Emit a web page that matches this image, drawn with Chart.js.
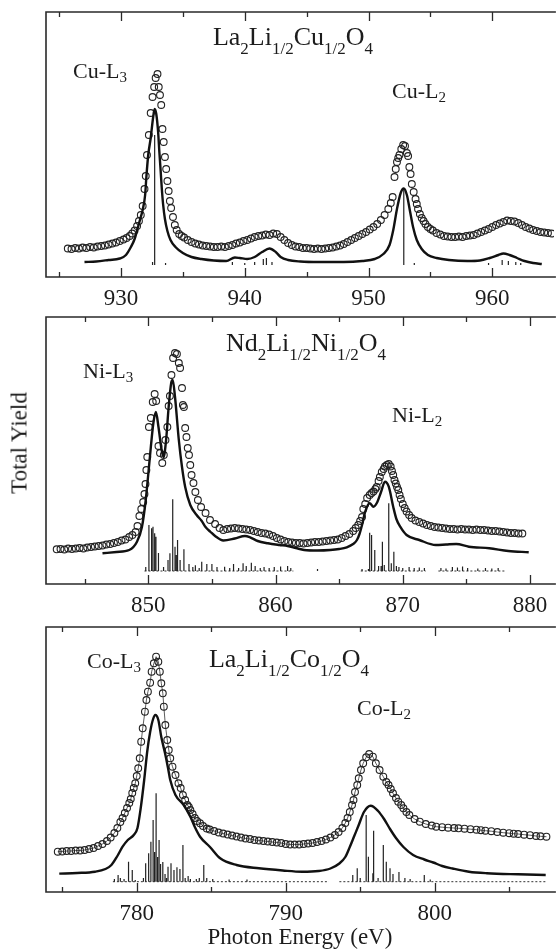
<!DOCTYPE html>
<html>
<head>
<meta charset="utf-8">
<script src="https://cdn.jsdelivr.net/npm/chart.js@4"></script>
<style>
  html, body { margin: 0; padding: 0; background: #fff; }
  #page { position: relative; width: 559px; height: 949px; overflow: hidden;
          font-family: "Liberation Serif", "DejaVu Serif", serif; color: #1c1c1c; }
  .panel { position: absolute; left: 0; width: 559px; }
  .txt { position: absolute; line-height: 1; white-space: nowrap; }
  .title { font-size: 26px; text-align: center; width: 300px; }
  .title sub { font-size: 17px; vertical-align: -9px; line-height: 1; }
  .peak { font-size: 22px; }
  .peak sub { font-size: 15px; vertical-align: -4px; line-height: 1; }
  #ytitle { font-size: 23px; left: 19px; top: 443px; transform: translate(-50%, -50%) rotate(-90deg); }
</style>
</head>
<body>
<div id="page">
  <div class="panel" style="top:0;height:307px"><canvas id="cu"></canvas></div>
  <div class="panel" style="top:307px;height:307px"><canvas id="ni"></canvas></div>
  <div class="panel" style="top:614px;height:335px"><canvas id="co"></canvas></div>

  <div class="txt title" style="left:143px;top:24px">La<sub>2</sub>Li<sub>1/2</sub>Cu<sub>1/2</sub>O<sub>4</sub></div>
  <div class="txt peak" style="left:73px;top:60px">Cu-L<sub>3</sub></div>
  <div class="txt peak" style="left:392px;top:80px">Cu-L<sub>2</sub></div>

  <div class="txt title" style="left:156px;top:330px">Nd<sub>2</sub>Li<sub>1/2</sub>Ni<sub>1/2</sub>O<sub>4</sub></div>
  <div class="txt peak" style="left:83px;top:360px">Ni-L<sub>3</sub></div>
  <div class="txt peak" style="left:392px;top:404px">Ni-L<sub>2</sub></div>

  <div class="txt title" style="left:139px;top:646px">La<sub>2</sub>Li<sub>1/2</sub>Co<sub>1/2</sub>O<sub>4</sub></div>
  <div class="txt peak" style="left:87px;top:650px">Co-L<sub>3</sub></div>
  <div class="txt peak" style="left:357px;top:697px">Co-L<sub>2</sub></div>

  <div class="txt" id="ytitle">Total Yield</div>
</div>
<script>
// ---- Cu panel (La2Li1/2Cu1/2O4) : [photon energy eV, yield a.u.] ----
const cuExp = [
  [925.7,28.5],[926.0,28],[926.3,29],[926.6,28.5],[926.9,29.5],[927.2,29],[927.5,30],[927.8,29.5],
  [928.1,30.5],[928.4,31],[928.7,31.5],[929.0,32.5],[929.3,33.5],[929.6,34.5],[929.9,36],[930.2,37.5],
  [930.45,39],[930.7,41],[930.9,43.5],[931.1,46.5],[931.3,51],[931.45,56],[931.6,62],[931.75,71],
  [931.9,88],[932.0,101],[932.1,122],[932.25,142],[932.4,164],[932.55,180],[932.68,190],[932.8,199],
  [932.95,203],[933.05,190],[933.15,182],[933.25,172],[933.35,148],[933.45,135],[933.55,120],[933.65,108],
  [933.75,96],[933.85,86],[933.95,76],[934.05,69],[934.2,60],[934.35,52],[934.5,47],[934.7,43],
  [934.9,41],[935.1,39.5],[935.4,37],[935.7,35],[936.0,33.5],[936.3,32.5],[936.6,31.5],[936.9,31],
  [937.2,30.5],[937.5,30],[937.8,30],[938.1,30.5],[938.4,30],[938.7,31],[939.0,32],[939.3,33.5],
  [939.6,34.5],[939.9,36],[940.2,37],[940.5,38.5],[940.8,40],[941.1,41],[941.4,41.5],[941.7,42.5],
  [942.0,42],[942.3,43.5],[942.6,43],[942.9,40],[943.2,37],[943.5,34],[943.8,32],[944.1,30.5],
  [944.4,30],[944.7,29],[945.0,29],[945.3,28.5],[945.6,28],[945.9,28.5],[946.2,28],[946.5,28.5],
  [946.8,29],[947.1,29.5],[947.4,30.5],[947.7,31.5],[948.0,33],[948.3,35],[948.6,37],[948.9,39],
  [949.2,41],[949.5,43],[949.8,45],[950.1,47.5],[950.4,50],[950.7,53],[951.0,57],[951.3,62],
  [951.6,68],[951.8,74],[951.95,80],[952.1,100],[952.2,108],[952.3,115],[952.4,119],[952.5,122],
  [952.65,128],[952.8,132],[952.95,131],[953.1,124],[953.2,121],[953.3,110],[953.4,103],[953.5,93],
  [953.65,85],[953.8,78],[953.9,73],[954.0,68],[954.15,63],[954.3,59],[954.45,56],[954.6,53],
  [954.8,50],[955.0,48],[955.2,46.5],[955.5,44],[955.8,42.5],[956.1,41],[956.4,40.5],[956.7,40],
  [957.0,40],[957.3,40.5],[957.6,40],[957.9,41],[958.2,41.5],[958.5,42],[958.8,43.5],[959.1,45],
  [959.4,46.5],[959.7,48],[960.0,50],[960.3,52],[960.6,53.5],[960.9,55],[961.2,56.5],[961.5,56],
  [961.8,55.5],[962.1,54],[962.4,52],[962.7,50],[963.0,48.5],[963.3,47],[963.6,46],[963.9,45],
  [964.2,44.5],[964.5,44],[964.8,43.5]
];
const cuCalc = [
  [927.05,15],[928.0,15.5],[929.0,17],[929.9,18.5],[930.4,22],[930.8,30],[931.1,38],[931.35,49],
  [931.6,60],[931.75,67],[931.95,82],[932.05,100],[932.2,122],[932.4,139],[932.6,160],[932.72,168],
  [932.85,163],[933.0,145],[933.1,125],[933.2,107],[933.3,88],[933.4,73],[933.55,58],[933.75,46],
  [934.0,37],[934.4,30],[935.0,24],[935.7,20],[936.5,18],[937.5,16.5],[938.5,16],[939.2,19.5],
  [939.6,19],[940.2,18],[940.8,20],[941.4,25],[942.0,28.5],[942.5,25],[942.9,20],[943.5,17],
  [944.5,15.5],[946.0,15],[948.0,15],[949.5,16],[950.5,18],[951.2,23],[951.7,32],[952.0,47],
  [952.3,68],[952.6,84],[952.85,88.5],[953.1,82],[953.35,66],[953.6,50],[953.9,37],[954.3,28],
  [954.8,22],[955.5,19],[956.5,17],[958.0,16],[959.0,16.5],[959.8,19],[960.5,22],[960.9,23.5],
  [961.4,22],[962.0,19],[962.6,16],[963.3,14],[964.0,13]
];
const cuSticks = [
  [932.55,15],[932.72,142],[933.6,14],[939.0,15],[940.0,14],[940.8,15],[941.5,18],[941.75,19],
  [942.2,15],[952.85,89],[953.7,14],[959.7,14],[960.8,17],[961.3,16],[961.9,15],[962.3,14]
];
const cuBase = 12;

// ---- Ni panel (Nd2Li1/2Ni1/2O4) ----
const niExp = [
  [842.8,34.7],[843.1,35],[843.4,34.5],[843.7,35.5],[844.0,35],[844.3,35.5],[844.6,36],[844.9,35.5],
  [845.2,36.5],[845.5,37],[845.8,37.5],[846.1,38],[846.4,38.5],[846.7,39.5],[847.0,40],[847.3,41],
  [847.6,42],[847.9,43.5],[848.2,44.5],[848.5,47],[848.75,49],[849.0,52],[849.15,58],[849.3,68],
  [849.45,75],[849.6,82],[849.7,90],[849.78,100],[849.85,114],[849.92,127],[850.05,157],[850.2,166],
  [850.35,182],[850.5,190],[850.62,183],[850.8,138],[850.92,131],[851.1,121],[851.22,129],[851.35,144],
  [851.5,157],[851.6,178],[851.7,188],[851.82,209],[851.95,226],[852.1,231],[852.25,230],[852.4,221],
  [852.5,216],[852.65,196],[852.72,179],[852.8,177],[852.9,156],[853.0,147],[853.1,136],[853.2,129],
  [853.3,119],[853.4,109],[853.55,101],[853.7,92],[853.9,84],[854.15,77],[854.5,71],[854.85,64],
  [855.25,60],[855.6,56],[855.9,54],[856.2,55],[856.5,55.5],[856.8,56],[857.1,55.5],[857.4,55],
  [857.7,54.5],[858.0,54],[858.3,53],[858.6,52],[858.9,51],[859.2,50.5],[859.5,49.5],[859.8,48],
  [860.1,46],[860.4,44.5],[860.7,43],[861.0,42],[861.3,41.5],[861.6,41],[861.9,41],[862.2,40.5],
  [862.5,41],[862.8,41.5],[863.1,42],[863.4,42],[863.7,42.5],[864.0,43],[864.3,43.5],[864.6,44],
  [864.9,44.5],[865.2,46],[865.5,48],[865.8,50],[866.1,53],[866.3,56],[866.5,59],[866.65,63],
  [866.8,67],[866.9,75],[867.05,80],[867.2,86],[867.4,89],[867.55,91],[867.7,92.5],[867.85,95],
  [867.95,97],[868.1,103],[868.2,107],[868.35,112],[868.5,115],[868.6,117.5],[868.75,119],[868.9,120],
  [869.05,117.5],[869.15,113],[869.25,109],[869.35,104],[869.45,100.5],[869.55,97],[869.65,94],[869.75,89],
  [869.85,85],[870.0,80],[870.15,76],[870.3,72.5],[870.5,69],[870.7,66],[871.0,63.5],[871.3,62],
  [871.6,60.5],[871.9,59],[872.2,58],[872.5,57],[872.8,56.5],[873.1,56],[873.4,55.5],[873.7,55],
  [874.0,55],[874.3,54.5],[874.6,55],[874.9,54.5],[875.2,54.5],[875.5,54],[875.8,54.5],[876.1,54],
  [876.4,54],[876.7,53.5],[877.0,53],[877.3,53],[877.6,52.5],[877.9,52],[878.2,51.5],[878.5,51],
  [878.8,51],[879.1,50.5],[879.4,50.5]
];
const niCalc = [
  [846.4,30.7],[847.5,32],[848.5,34],[849.1,42],[849.5,57],[849.8,84],[850.0,110],[850.2,137],
  [850.4,161],[850.6,172],[850.8,157],[851.05,134],[851.2,127],[851.4,144],[851.6,177],[851.8,201],
  [851.92,204],[852.1,187],[852.4,144],[852.65,117],[852.9,97],[853.3,79],[853.8,69],[854.2,63],
  [854.5,57],[854.9,52],[855.25,48],[855.9,43.5],[856.8,45.5],[857.6,48],[858.0,46.7],[858.6,43],
  [859.4,40.7],[860.3,39],[860.95,38],[861.6,36],[862.25,34],[863.3,33.5],[864.3,34],[865.0,35],
  [865.6,36.7],[866.1,40],[866.4,44],[866.6,50],[866.8,59],[867.05,72.3],[867.4,80.7],[867.7,77.3],
  [867.95,80.7],[868.3,92.3],[868.6,102.3],[868.9,97.3],[869.25,77.3],[869.5,65],[869.8,57.3],[870.3,49],
  [871.3,44],[872.6,39],[873.4,39.5],[874.2,40],[875.2,37.3],[876.8,35.7],[878.3,33],[879.9,31.7]
];
const niSticks = [
  [849.8,17],[850.05,59],[850.26,55.7],[850.37,57.3],[850.5,50.7],[850.6,47.3],[850.8,31],[851.2,17],
  [851.55,24],[851.7,30.7],[851.92,84.7],[852.1,37.3],[852.2,29],[852.3,44],[852.5,24],[852.8,34.7],
  [853.2,20],[853.5,17],[853.7,18.7],[854.0,16],[854.2,22.3],[854.6,20],[855.0,20],[855.4,17],
  [856.0,17.3],[856.4,16],[856.7,20],[857.1,16],[857.45,20.7],[857.7,18],[858.1,21.3],[858.4,18],
  [858.8,16],[859.1,17],[859.5,16],[859.9,17],[860.4,17.5],[860.95,18],[861.2,16],[863.3,15],
  [866.8,15],[867.3,15],[867.4,51.3],[867.55,49],[867.8,34],[868.1,18],[868.3,18],[868.4,42.3],
  [868.55,19],[868.9,80.7],[869.1,20.7],[869.3,32.3],[869.5,18],[869.7,17],[870.0,16],[870.5,17],
  [870.9,16],[871.3,16.5],[871.7,16],[873.0,16],[873.4,15.5],[873.9,17],[874.3,16.5],[874.7,17.5],
  [875.1,16],[875.9,15.5],[876.5,16],[877.0,15.5],[877.5,16]
];
const niBase = 13;
const niFloor = [[849.7, 861.4], [866.7, 871.8], [872.8, 878.0]];

// ---- Co panel (La2Li1/2Co1/2O4) ----
const coExp = [
  [774.7,40.3],[775.0,40.5],[775.3,41],[775.6,41],[775.9,41.5],[776.2,41.5],[776.5,42],[776.8,43],
  [777.1,44],[777.4,46],[777.7,48],[778.0,51],[778.25,54.5],[778.5,59],[778.7,64],[778.9,70],
  [779.05,74],[779.2,79],[779.35,84],[779.5,89],[779.6,93],[779.7,99],[779.8,104],[779.9,108.7],
  [780.0,116],[780.1,123.7],[780.2,133.7],[780.3,150.3],[780.4,163.7],[780.55,180.3],[780.65,192],[780.75,200.3],
  [780.9,209.3],[781.0,220.3],[781.15,228.7],[781.3,235.3],[781.45,230.3],[781.55,220.3],[781.65,208.7],[781.75,198.7],
  [781.82,185.3],[781.92,167],[782.05,152],[782.15,142],[782.25,133.7],[782.4,125.3],[782.6,117],[782.8,108.7],
  [782.95,104],[783.1,97],[783.25,92],[783.4,87],[783.5,85],[783.6,82],[783.75,78],[783.9,74],
  [784.05,71],[784.25,68.7],[784.45,66],[784.7,63.5],[784.9,62.5],[785.2,61],[785.5,59.5],[785.8,58.5],
  [786.1,57.5],[786.4,56.5],[786.7,55.5],[787.0,54.5],[787.3,53.5],[787.6,53],[787.9,52],[788.2,51.5],
  [788.5,51],[788.8,50.5],[789.1,50],[789.4,49.5],[789.7,49],[790.0,48],[790.3,47.5],[790.6,47.5],
  [790.9,47.5],[791.2,48],[791.5,48.5],[791.8,49],[792.1,50],[792.4,51],[792.7,52.5],[793.0,54.5],
  [793.3,57],[793.55,60],[793.8,64],[794.0,69],[794.15,74],[794.3,80],[794.45,87],[794.55,92],
  [794.65,100],[794.8,107],[794.9,113.7],[795.05,122],[795.2,128.7],[795.4,134.7],[795.6,138],[795.85,135.3],
  [796.05,128.7],[796.3,122],[796.55,115.3],[796.75,110],[796.9,107],[797.05,103],[797.2,98.7],[797.4,94],
  [797.55,90.3],[797.75,87],[797.9,83.7],[798.1,80],[798.3,77],[798.65,73],[799.0,70.3],[799.4,68],
  [799.8,66.5],[800.1,65.3],[800.5,64.8],[800.9,64.3],[801.3,64],[801.6,63.7],[802.0,63.3],[802.4,62.8],
  [802.8,62.3],[803.1,61.8],[803.4,61.3],[803.8,60.8],[804.2,60],[804.6,59.3],[805.0,58.8],[805.3,58.3],
  [805.6,58],[806.0,57.3],[806.4,56.8],[806.8,56],[807.1,55.7],[807.5,55.3]
];
const coCalc = [
  [774.8,18.4],[776.0,19],[777.2,20.3],[777.9,23],[778.3,27],[778.7,36],[779.05,45.3],[779.4,52],
  [779.8,57],[780.05,64],[780.25,82],[780.5,112],[780.7,140],[780.9,160],[781.1,173],[781.25,177],
  [781.45,172],[781.65,155],[781.9,138.7],[782.1,124],[782.25,112],[782.6,97],[783.15,87],[783.6,75.3],
  [783.9,65],[784.25,55.3],[784.9,45.3],[785.6,33.7],[786.7,27],[788.2,23.7],[789.8,21.5],[791.1,20.3],
  [792.2,21],[793.0,23.5],[793.6,28.5],[794.0,35],[794.3,45],[794.6,56],[794.9,67],[795.25,80],
  [795.7,86.2],[796.2,81],[796.6,73],[797.0,63],[797.4,54],[797.9,45],[798.55,37],[799.3,32.5],
  [799.9,29.5],[800.5,26],[801.2,23.5],[802.3,20.3],[803.5,18.8],[805.6,17.7],[807.45,17]
];
const coSticks = [
  [778.5,13],[778.75,17],[778.9,14],[779.15,13],[779.45,30.3],[779.7,22],[779.9,12],[780.45,14],
  [780.6,28.7],[780.8,38.7],[780.95,50.3],[781.1,72],[781.2,40],[781.3,98.7],[781.4,35],[781.5,52],
  [781.6,28],[781.75,30],[781.9,18],[782.0,14],[782.1,25.3],[782.3,28.7],[782.5,22],[782.7,24.7],
  [782.9,23],[783.1,47],[783.25,14],[783.45,16],[783.6,13],[784.0,13],[784.2,14],[784.5,27],
  [784.7,14],[785.1,13],[786.2,12.5],[787.4,12.5],[794.5,17],[794.8,23.7],[795.0,14],[795.4,77],
  [795.55,35.3],[795.85,18.7],[795.9,61.3],[796.2,14],[796.55,47],[796.75,30.3],[797.0,23.7],[797.2,18],
  [797.6,20],[798.0,14],[798.35,13],[799.3,17],[799.7,12.5]
];
const coBase = 10.3;
const coFloor = [[778.4, 792.9], [793.6, 807.5]];

const serif = '"Liberation Serif", "DejaVu Serif", serif';
const ink = '#1c1c1c';

// box frame plus inward ticks on top and bottom edges
const frameTicks = {
  id: 'frameTicks',
  afterDatasetsDraw(chart) {
    const {ctx, chartArea: a, scales: {x}} = chart;
    ctx.save();
    ctx.strokeStyle = '#2a2a2a';
    ctx.lineWidth = 1.6;
    ctx.beginPath();
    ctx.moveTo(a.right + 2, a.top);
    ctx.lineTo(a.left, a.top);
    ctx.lineTo(a.left, a.bottom);
    ctx.lineTo(a.right + 2, a.bottom);
    ctx.stroke();
    ctx.lineWidth = 1.3;
    for (let v = Math.ceil(x.min / 5) * 5; v <= x.max; v += 5) {
      const px = Math.round(x.getPixelForValue(v)) + 0.5;
      const len = v % 10 === 0 ? 9 : 5;
      ctx.beginPath();
      ctx.moveTo(px, a.bottom); ctx.lineTo(px, a.bottom - len);
      ctx.moveTo(px, a.top); ctx.lineTo(px, a.top + len);
      ctx.stroke();
    }
    ctx.restore();
  }
};

const pts = arr => arr.map(([x, y]) => ({x, y}));
// each stick: base -> top, then a gap
const stickPts = (arr, base) => arr.flatMap(([x, t]) => [{x, y: base}, {x, y: t}, {x, y: null}]);
const floorPts = (ranges, base) => ranges.flatMap(([a, b]) => [{x: a, y: base}, {x: b, y: base}, {x: b, y: null}]);

function panel(id, o) {
  const datasets = [
    { type: 'line', data: pts(o.calc), borderColor: '#111', borderWidth: 2.4,
      pointRadius: 0, cubicInterpolationMode: 'monotone', order: 0 },
    { type: 'scatter', data: pts(o.exp), showLine: !!o.joined, borderColor: '#333', borderWidth: 0.8,
      pointRadius: 3.4, pointBorderWidth: 1.1, pointBorderColor: '#222',
      pointBackgroundColor: 'rgba(0,0,0,0)', order: 1 },
    { type: 'line', data: stickPts(o.sticks, o.base), borderColor: '#222', borderWidth: 1.2,
      pointRadius: 0, spanGaps: false, tension: 0, order: 2 }
  ];
  if (o.floor) {
    datasets.push({ type: 'line', data: floorPts(o.floor, o.base), borderColor: '#333', borderWidth: 1,
      borderDash: [2, 2], pointRadius: 0, spanGaps: false, order: 3 });
  }
  new Chart(document.getElementById(id), {
    type: 'scatter',
    data: { datasets },
    options: {
      responsive: true,
      maintainAspectRatio: false,
      animation: false,
      layout: { padding: { top: o.padTop, left: 46, right: 0, bottom: 0 } },
      plugins: { legend: { display: false }, tooltip: { enabled: false } },
      scales: {
        x: {
          type: 'linear', min: o.min, max: o.max, offset: false,
          afterFit: s => { s.height = o.axisH; },
          afterBuildTicks: s => {
            const t = [];
            for (let v = Math.ceil(s.min / 10) * 10; v <= s.max; v += 10) t.push({value: v});
            s.ticks = t;
          },
          grid: { display: false, drawTicks: false },
          border: { display: false },
          ticks: { padding: 8, color: ink, callback: v => String(v),
                   font: { family: serif, size: 23 } },
          title: { display: !!o.xTitle, text: o.xTitle || '', color: ink,
                   font: { family: serif, size: 23, lineHeight: 1 }, padding: 0 }
        },
        y: { display: false, min: 0, max: o.h }
      }
    },
    plugins: [frameTicks]
  });
}

panel('cu', { exp: cuExp, calc: cuCalc, sticks: cuSticks, base: cuBase,
  min: 923.94, max: 964.98, h: 265, padTop: 12, axisH: 30 });
panel('ni', { exp: niExp, calc: niCalc, sticks: niSticks, base: niBase, floor: niFloor,
  min: 841.96, max: 881.88, h: 267, padTop: 10, axisH: 30 });
panel('co', { exp: coExp, calc: coCalc, sticks: coSticks, base: coBase, floor: coFloor, joined: true,
  min: 773.91, max: 808.0, h: 265, padTop: 13, axisH: 57, xTitle: 'Photon Energy (eV)' });
</script>
</body>
</html>
